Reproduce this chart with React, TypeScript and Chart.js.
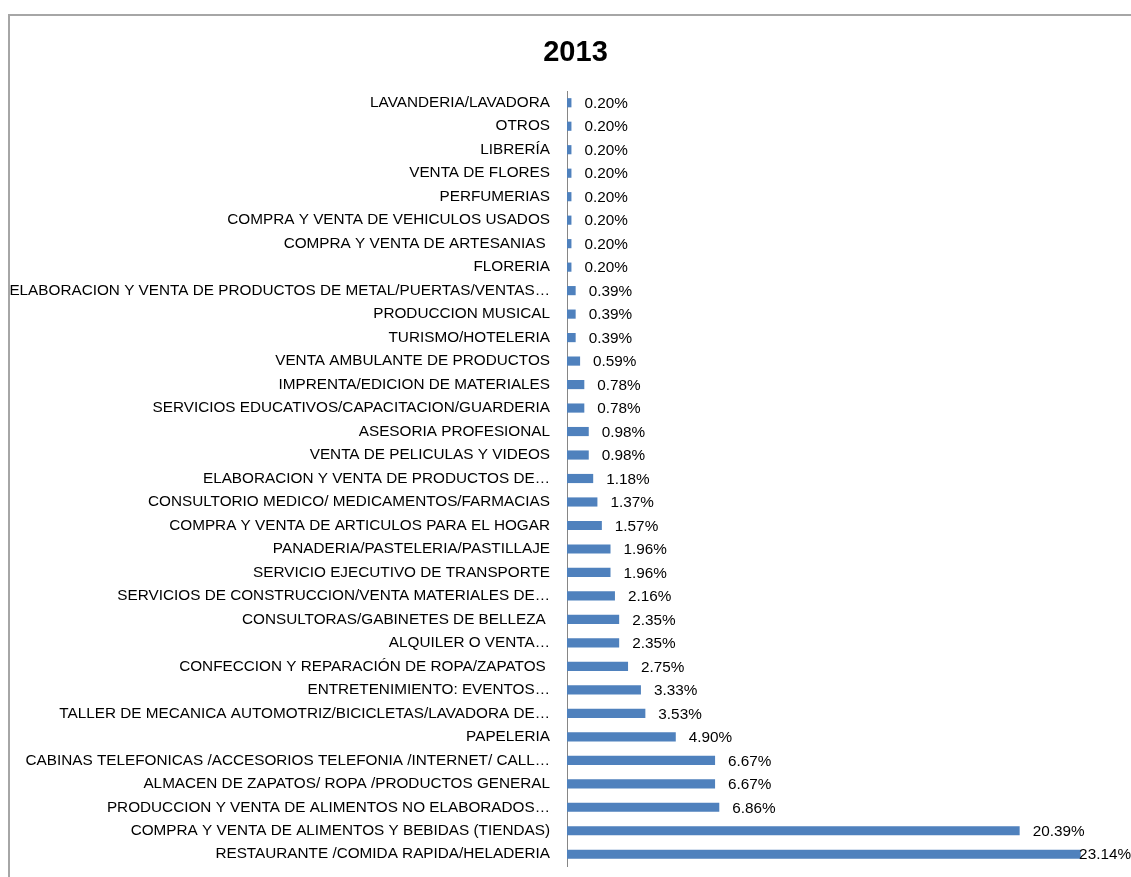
import React, { useEffect, useRef } from "react";
import { Chart, registerables } from "chart.js";

Chart.register(...registerables);

const title = "2013";

const categories: string[] = [
  "LAVANDERIA/LAVADORA",
  "OTROS",
  "LIBRERÍA",
  "VENTA DE FLORES",
  "PERFUMERIAS",
  "COMPRA Y VENTA DE VEHICULOS USADOS",
  "COMPRA Y VENTA DE ARTESANIAS ",
  "FLORERIA",
  "ELABORACION Y VENTA DE PRODUCTOS DE METAL/PUERTAS/VENTAS…",
  "PRODUCCION MUSICAL",
  "TURISMO/HOTELERIA",
  "VENTA AMBULANTE DE PRODUCTOS",
  "IMPRENTA/EDICION DE MATERIALES",
  "SERVICIOS EDUCATIVOS/CAPACITACION/GUARDERIA",
  "ASESORIA PROFESIONAL",
  "VENTA DE PELICULAS Y VIDEOS",
  "ELABORACION Y VENTA DE PRODUCTOS DE…",
  "CONSULTORIO MEDICO/ MEDICAMENTOS/FARMACIAS",
  "COMPRA Y VENTA DE ARTICULOS PARA EL HOGAR",
  "PANADERIA/PASTELERIA/PASTILLAJE",
  "SERVICIO EJECUTIVO DE TRANSPORTE",
  "SERVICIOS DE CONSTRUCCION/VENTA MATERIALES DE…",
  "CONSULTORAS/GABINETES DE BELLEZA ",
  "ALQUILER O VENTA…",
  "CONFECCION Y REPARACIÓN DE ROPA/ZAPATOS ",
  "ENTRETENIMIENTO: EVENTOS…",
  "TALLER DE MECANICA AUTOMOTRIZ/BICICLETAS/LAVADORA DE…",
  "PAPELERIA",
  "CABINAS TELEFONICAS /ACCESORIOS TELEFONIA /INTERNET/ CALL…",
  "ALMACEN DE ZAPATOS/ ROPA /PRODUCTOS GENERAL",
  "PRODUCCION Y VENTA DE ALIMENTOS NO ELABORADOS…",
  "COMPRA Y VENTA DE ALIMENTOS Y BEBIDAS (TIENDAS)",
  "RESTAURANTE /COMIDA RAPIDA/HELADERIA",
];

const percentages: number[] = [
  0.2, 0.2, 0.2, 0.2, 0.2, 0.2, 0.2, 0.2,
  0.39, 0.39, 0.39, 0.59, 0.78, 0.78, 0.98, 0.98,
  1.18, 1.37, 1.57, 1.96, 1.96, 2.16, 2.35, 2.35,
  2.75, 3.33, 3.53, 4.9, 6.67, 6.67, 6.86, 20.39, 23.14,
];

const FONT_FAMILY = "'Liberation Sans', Arial, sans-serif";
const FONT_SIZE = 15.3;

const valueLabels = {
  id: "valueLabels",
  afterLayout(chart: any) {
    // let the category labels use the full width to the left of the axis
    const y = chart.scales.y;
    if (y) y.left = 0;
  },
  afterDatasetsDraw(chart: any) {
    const ctx = chart.ctx;
    const meta = chart.getDatasetMeta(0);
    ctx.save();
    ctx.font = `${FONT_SIZE}px ${FONT_FAMILY}`;
    ctx.fillStyle = "#000000";
    ctx.textBaseline = "middle";
    ctx.textAlign = "left";
    meta.data.forEach((bar: any, i: number) => {
      const text = percentages[i].toFixed(2) + "%";
      const w = ctx.measureText(text).width;
      let x = bar.x + 13;
      if (x + w > chart.width) x = chart.width - w;
      ctx.fillText(text, x, bar.y + 1);
    });
    ctx.restore();
  },
};

export default function App() {
  const canvasRef = useRef<HTMLCanvasElement | null>(null);

  useEffect(() => {
    document.documentElement.style.overflow = "hidden";
    document.body.style.overflow = "hidden";
    const canvas = canvasRef.current;
    if (!canvas) return;
    const chart = new Chart(canvas, {
      type: "bar",
      data: {
        labels: categories,
        datasets: [
          {
            data: percentages,
            backgroundColor: "#4F81BD",
            borderWidth: 0,
            barPercentage: 0.39,
            categoryPercentage: 1,
          },
        ],
      },
      options: {
        indexAxis: "y",
        animation: false,
        responsive: false,
        maintainAspectRatio: false,
        layout: {
          padding: { top: 0, right: 9, bottom: 11, left: 19 },
        },
        plugins: {
          legend: { display: false },
          tooltip: { enabled: false },
          title: {
            display: true,
            text: title,
            color: "#000000",
            font: { family: FONT_FAMILY, size: 29, weight: "bold" },
            padding: { top: 19.5, bottom: 20.7 },
          },
        },
        scales: {
          x: {
            display: false,
            min: 0,
            max: 25,
          },
          y: {
            grid: { display: false, drawTicks: false, tickLength: 0 },
            border: { display: true, color: "#868686", width: 1 },
            ticks: {
              color: "#000000",
              font: { family: FONT_FAMILY, size: FONT_SIZE },
              padding: 17,
              autoSkip: false,
            },
            afterFit(scale: any) {
              scale.width = 538;
              scale.paddingTop = 0;
              scale.paddingBottom = 0;
            },
          },
        },
      },
      plugins: [valueLabels],
    });
    return () => chart.destroy();
  }, []);

  return (
    <div
      style={{
        position: "absolute",
        left: 8,
        top: 14,
        width: 1121,
        height: 861,
        borderTop: "2px solid #a6a6a6",
        borderLeft: "2px solid #a6a6a6",
        background: "#ffffff",
      }}
    >
      <canvas ref={canvasRef} width={1121} height={861} style={{ display: "block" }} />
    </div>
  );
}
